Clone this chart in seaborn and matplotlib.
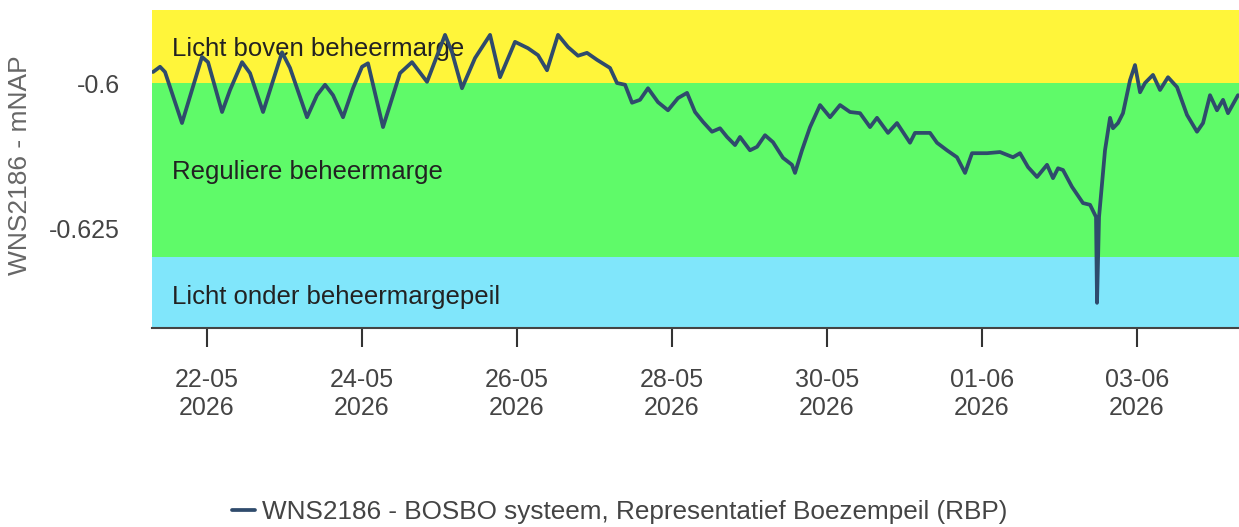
import pandas as pd
import matplotlib
matplotlib.use("Agg")
import matplotlib.pyplot as plt
import matplotlib.dates as mdates
import seaborn as sns

# water level readings: time in days since 21-05-2026 00:00, level in m NAP
dagen = [0.303, 0.394, 0.458, 0.677, 0.935, 1.013, 1.194, 1.297, 1.452, 1.555,
         1.723, 1.968, 2.071, 2.290, 2.419, 2.523, 2.626, 2.755, 2.884, 3.000,
         3.077, 3.271, 3.490, 3.645, 3.839, 4.071, 4.161, 4.290, 4.458, 4.652,
         4.781, 4.974, 5.142, 5.271, 5.387, 5.529, 5.658, 5.787, 5.903, 6.032,
         6.200, 6.290, 6.394, 6.484, 6.587, 6.690, 6.819, 6.948, 7.077, 7.194,
         7.297, 7.400, 7.516, 7.619, 7.710, 7.813, 7.877, 8.006, 8.097, 8.200,
         8.303, 8.432, 8.548, 8.587, 8.677, 8.781, 8.910, 9.039, 9.168, 9.297,
         9.426, 9.555, 9.645, 9.787, 9.903, 10.071, 10.135, 10.329, 10.419, 10.548,
         10.677, 10.781, 10.871, 11.065, 11.232, 11.400, 11.490, 11.594, 11.710, 11.839,
         11.916, 11.981, 12.045, 12.161, 12.303, 12.394, 12.471, 12.484, 12.510, 12.587,
         12.652, 12.690, 12.755, 12.819, 12.910, 12.974, 13.039, 13.103, 13.206, 13.297,
         13.400, 13.516, 13.645, 13.774, 13.852, 13.942, 14.032, 14.110, 14.174, 14.303]
peil = [-0.5981, -0.5972, -0.5981, -0.6069, -0.5955, -0.5964, -0.6050, -0.6012, -0.5964, -0.5983,
        -0.6050, -0.5947, -0.5974, -0.6059, -0.6021, -0.6003, -0.6021, -0.6059, -0.6009, -0.5972,
        -0.5966, -0.6076, -0.5983, -0.5964, -0.5998, -0.5917, -0.5947, -0.6009, -0.5957, -0.5917,
        -0.5990, -0.5929, -0.5940, -0.5952, -0.5978, -0.5917, -0.5938, -0.5953, -0.5948, -0.5960,
        -0.5974, -0.6000, -0.6003, -0.6034, -0.6029, -0.6009, -0.6033, -0.6047, -0.6026, -0.6017,
        -0.6050, -0.6067, -0.6084, -0.6078, -0.6093, -0.6107, -0.6093, -0.6116, -0.6110, -0.6090,
        -0.6102, -0.6129, -0.6141, -0.6155, -0.6116, -0.6076, -0.6038, -0.6059, -0.6038, -0.6050,
        -0.6052, -0.6076, -0.6060, -0.6086, -0.6069, -0.6103, -0.6086, -0.6086, -0.6103, -0.6116,
        -0.6128, -0.6155, -0.6121, -0.6121, -0.6119, -0.6128, -0.6121, -0.6145, -0.6162, -0.6141,
        -0.6164, -0.6147, -0.6150, -0.6179, -0.6207, -0.6210, -0.6231, -0.6379, -0.6231, -0.6116,
        -0.6060, -0.6078, -0.6069, -0.6052, -0.5995, -0.5969, -0.6016, -0.6000, -0.5986, -0.6012,
        -0.5990, -0.6007, -0.6055, -0.6084, -0.6069, -0.6021, -0.6047, -0.6029, -0.6052, -0.6021]

# band limits (m NAP)
grens_boven = -0.6
grens_onder = -0.63
band_labels = ["Licht boven beheermarge", "Reguliere beheermarge", "Licht onder beheermargepeil"]
tick_dagen = ["2026-05-22", "2026-05-24", "2026-05-26", "2026-05-28",
              "2026-05-30", "2026-06-01", "2026-06-03"]
reeks_naam = "WNS2186 - BOSBO systeem, Representatief Boezempeil (RBP)"

start = pd.Timestamp("2026-05-21")
df = pd.DataFrame({"tijd": start + pd.to_timedelta(dagen, unit="D"), "peil": peil})

sns.set_style("white")
plt.rcParams['font.family'] = ['Liberation Sans', 'DejaVu Sans']

fig = plt.figure(figsize=(12.39, 5.27), dpi=100)
ax = fig.add_axes([152/1239, 1-328/527, 1087/1239, 318/527])

ymin, ymax = -0.64224, -0.58741
ax.axhspan(grens_boven, 0, color="#fff53a", lw=0, zorder=0)
ax.axhspan(grens_onder, grens_boven, color="#5ffa69", lw=0, zorder=0)
ax.axhspan(-1, grens_onder, color="#80e6fb", lw=0, zorder=0)

for txt, yv in zip(band_labels, [-0.5941, -0.6153, -0.6369]):
    ax.text(0.0184, yv, txt, transform=ax.get_yaxis_transform(), va="center", ha="left",
            fontsize=18.5, color="#222222", zorder=2)

sns.lineplot(data=df, x="tijd", y="peil", ax=ax, color="#2f4b6c", lw=2.7,
             label=reeks_naam, zorder=3)

ax.set_xlim(start + pd.Timedelta(days=0.29), start + pd.Timedelta(days=14.316))
ax.set_ylim(ymin, ymax)

ax.set_yticks([-0.6, -0.625])
ax.set_yticklabels(["-0.6", "-0.625"])
ax.tick_params(axis="y", length=0, pad=23, labelsize=18, labelcolor="#444444")

ax.set_xticks(pd.to_datetime(tick_dagen))
ax.xaxis.set_major_formatter(mdates.DateFormatter("%d-%m\n%Y"))
ax.tick_params(axis="x", bottom=True, length=14, width=1.5, color="#333333", pad=15,
               labelsize=18, labelcolor="#444444", direction="out")

for s in ["left", "right", "top"]:
    ax.spines[s].set_visible(False)
ax.spines["bottom"].set_color("#444444")
ax.spines["bottom"].set_linewidth(1.5)

ax.set_xlabel("")
ax.set_ylabel("WNS2186 - mNAP", fontsize=19, color="#666666")
ax.yaxis.set_label_coords(-0.11, 0.513)

ax.legend(loc="center", bbox_to_anchor=(0.5, 1-512/527), bbox_transform=fig.transFigure,
          frameon=False, fontsize=18.8, handlelength=0.9, handletextpad=0.25, labelcolor="#444444")

fig.savefig("out.png", dpi=100)
